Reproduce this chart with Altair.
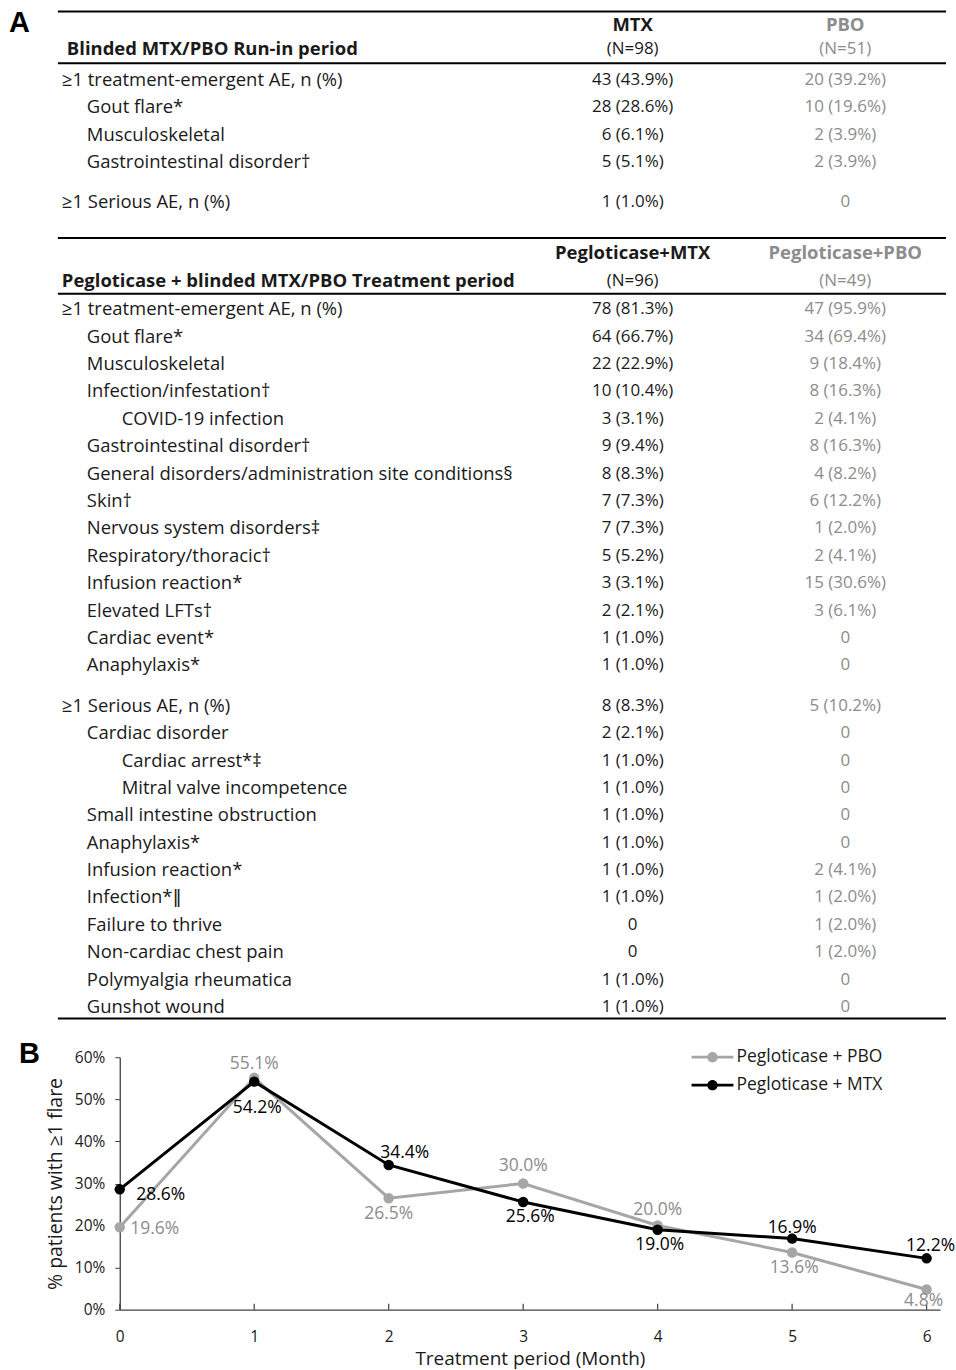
import altair as alt
import pandas as pd

FONT = "Open Sans, DejaVu Sans"
INK = "#1a1a1a"
GRAY_TXT = "#8c8c8c"
GRAY_LINE = "#a6a6a6"
AXIS_INK = "#404040"

# ---------------- Panel A: adverse event tables ----------------
runin_title = "Blinded MTX/PBO Run-in period"
runin_groups = ["MTX", "PBO"]
runin_n = ["(N=98)", "(N=51)"]
runin_labels = [
    "≥1 treatment-emergent AE, n (%)",
    "Gout flare*",
    "Musculoskeletal",
    "Gastrointestinal disorder†",
    "≥1 Serious AE, n (%)",
]
runin_levels = [0, 1, 1, 1, 0]
runin_blocks = [0, 0, 0, 0, 1]
runin_mtx = ["43 (43.9%)", "28 (28.6%)", "6 (6.1%)", "5 (5.1%)", "1 (1.0%)"]
runin_pbo = ["20 (39.2%)", "10 (19.6%)", "2 (3.9%)", "2 (3.9%)", "0"]

treat_title = "Pegloticase + blinded MTX/PBO Treatment period"
treat_groups = ["Pegloticase+MTX", "Pegloticase+PBO"]
treat_n = ["(N=96)", "(N=49)"]
treat_labels = [
    "≥1 treatment-emergent AE, n (%)",
    "Gout flare*",
    "Musculoskeletal",
    "Infection/infestation†",
    "COVID-19 infection",
    "Gastrointestinal disorder†",
    "General disorders/administration site conditions§",
    "Skin†",
    "Nervous system disorders‡",
    "Respiratory/thoracic†",
    "Infusion reaction*",
    "Elevated LFTs†",
    "Cardiac event*",
    "Anaphylaxis*",
    "≥1 Serious AE, n (%)",
    "Cardiac disorder",
    "Cardiac arrest*‡",
    "Mitral valve incompetence",
    "Small intestine obstruction",
    "Anaphylaxis*",
    "Infusion reaction*",
    "Infection*‖",
    "Failure to thrive",
    "Non-cardiac chest pain",
    "Polymyalgia rheumatica",
    "Gunshot wound",
]
treat_levels = [0, 1, 1, 1, 2, 1, 1, 1, 1, 1, 1, 1, 1, 1,
                0, 1, 2, 2, 1, 1, 1, 1, 1, 1, 1, 1]
treat_blocks = [0] * 14 + [1] * 12
treat_mtx = [
    "78 (81.3%)", "64 (66.7%)", "22 (22.9%)", "10 (10.4%)", "3 (3.1%)",
    "9 (9.4%)", "8 (8.3%)", "7 (7.3%)", "7 (7.3%)", "5 (5.2%)", "3 (3.1%)",
    "2 (2.1%)", "1 (1.0%)", "1 (1.0%)",
    "8 (8.3%)", "2 (2.1%)", "1 (1.0%)", "1 (1.0%)", "1 (1.0%)", "1 (1.0%)",
    "1 (1.0%)", "1 (1.0%)", "0", "0", "1 (1.0%)", "1 (1.0%)",
]
treat_pbo = [
    "47 (95.9%)", "34 (69.4%)", "9 (18.4%)", "8 (16.3%)", "2 (4.1%)",
    "8 (16.3%)", "4 (8.2%)", "6 (12.2%)", "1 (2.0%)", "2 (4.1%)",
    "15 (30.6%)", "3 (6.1%)", "0", "0",
    "5 (10.2%)", "0", "0", "0", "0", "0", "2 (4.1%)", "1 (2.0%)",
    "1 (2.0%)", "1 (2.0%)", "0", "0",
]

# ---------------- Panel B: flares by month ----------------
series_names = ["Pegloticase + PBO", "Pegloticase + MTX"]
months = [0, 1, 2, 3, 4, 5, 6]
flare_pbo = [19.6, 55.1, 26.5, 30.0, 20.0, 13.6, 4.8]
flare_mtx = [28.6, 54.2, 34.4, 25.6, 19.0, 16.9, 12.2]

# label placement around each point (pixels: right, down)
pbo_label_dx = [35, 0, 0, 0, 0, 2, -3]
pbo_label_dy = [2, -14, 16, -17, -16, 16, 12]
mtx_label_dx = [41, 3, 16, 7, 2, 0, 4]
mtx_label_dy = [6, 26, -12, 15, 15, -11, -12]

# ---------------- table layout ----------------
PAGE_W = 956
A_H = 1058
ROW = 27.45
BLOCK_GAP = 13
COL_A = 634
COL_B = 847
INDENT = {0: 62, 1: 87, 2: 122}
RULE_X0, RULE_X1 = 58, 948
FS_LABEL = 18.5
FS_BOLD = 18.5
FS_NUM = 17
BODY_DY = 1.5

sections = [
    dict(title=runin_title, title_x=67, groups=runin_groups, ns=runin_n,
         labels=runin_labels, levels=runin_levels, blocks=runin_blocks,
         col_a=runin_mtx, col_b=runin_pbo,
         top=10, head1=24, head2=48, head_rule=62, first=77),
    dict(title=treat_title, title_x=62, groups=treat_groups, ns=treat_n,
         labels=treat_labels, levels=treat_levels, blocks=treat_blocks,
         col_a=treat_mtx, col_b=treat_pbo,
         top=237, head1=252, head2=280, head_rule=293, first=307),
]

rule_rows, bold_c, norm_c, bold_l, body_l, body_c = [], [], [], [], [], []
last_y = 0
for s in sections:
    rule_rows.append(dict(x=RULE_X0, x2=RULE_X1, y=s["top"]))
    rule_rows.append(dict(x=RULE_X0, x2=RULE_X1, y=s["head_rule"]))
    bold_c.append(dict(x=COL_A, y=s["head1"], t=s["groups"][0], c=INK))
    bold_c.append(dict(x=COL_B, y=s["head1"], t=s["groups"][1], c=GRAY_TXT))
    norm_c.append(dict(x=COL_A, y=s["head2"], t=s["ns"][0], c=INK))
    norm_c.append(dict(x=COL_B, y=s["head2"], t=s["ns"][1], c=GRAY_TXT))
    bold_l.append(dict(x=s["title_x"], y=s["head2"], t=s["title"], c=INK))
    for i, (lab, lev, blk, a, b) in enumerate(
        zip(s["labels"], s["levels"], s["blocks"], s["col_a"], s["col_b"])
    ):
        y = s["first"] + i * ROW + blk * BLOCK_GAP
        body_l.append(dict(x=INDENT[lev], y=y, t=lab, c=INK))
        body_c.append(dict(x=COL_A, y=y, t=a, c=INK))
        body_c.append(dict(x=COL_B, y=y, t=b, c=GRAY_TXT))
        last_y = y
rule_rows.append(dict(x=RULE_X0, x2=RULE_X1, y=last_y + 13))

panel_letters = pd.DataFrame(
    [dict(x=9, y=22, t="A", c="black"), dict(x=19, y=1055, t="B", c="black")]
)
anchor = pd.DataFrame([dict(x=0, x2=PAGE_W, y=0)])

xs = alt.Scale(domain=[120, PAGE_W], nice=False, zero=False)
ys = alt.Scale(domain=[0, A_H], nice=False, zero=False, reverse=True)
AX = alt.X("x:Q", scale=xs, axis=None)
AY = alt.Y("y:Q", scale=ys, axis=None)
COLOR = alt.Color("c:N", scale=None)


def text_layer(rows, align, weight, size, dy=0):
    return alt.Chart(pd.DataFrame(rows)).mark_text(
        align=align, baseline="middle", font=FONT, fontSize=size,
        fontWeight=weight, dy=dy,
    ).encode(x=AX, y=AY, text="t:N", color=COLOR)


rules = alt.Chart(pd.DataFrame(rule_rows)).mark_rule(
    color="black", strokeWidth=2
).encode(x=AX, x2="x2:Q", y=AY)
frame = alt.Chart(anchor).mark_rule(opacity=0, strokeWidth=0.1).encode(
    x=AX, x2="x2:Q", y=AY
)
letters = alt.Chart(panel_letters).mark_text(
    align="left", baseline="middle", font="Liberation Sans", fontSize=29, fontWeight="bold"
).encode(x=AX, y=AY, text="t:N", color=COLOR)

panel_a = alt.layer(
    frame,
    rules,
    text_layer(bold_c, "center", "bold", FS_BOLD),
    text_layer(norm_c, "center", "normal", FS_NUM),
    text_layer(bold_l, "left", "bold", FS_BOLD),
    text_layer(body_l, "left", "normal", FS_LABEL, BODY_DY),
    text_layer(body_c, "center", "normal", FS_NUM, BODY_DY),
    letters,
).properties(width=PAGE_W - 120, height=A_H)

# ---------------- line chart ----------------
B_W, B_H = 822, 253
X_MAX, Y_MAX = 6.1, 60
n = len(months)
vals = flare_pbo + flare_mtx
dxs = pbo_label_dx + mtx_label_dx
dys = pbo_label_dy + mtx_label_dy
flare = pd.DataFrame({
    "month": months * 2,
    "pct": vals,
    "series": [series_names[0]] * n + [series_names[1]] * n,
    "label": [f"{v:.1f}%" for v in vals],
    # label anchor: the point shifted by its pixel offset, in axis units
    "lx": [m + dx * X_MAX / B_W for m, dx in zip(months * 2, dxs)],
    "ly": [v - dy * Y_MAX / B_H for v, dy in zip(vals, dys)],
})

x_scale = alt.Scale(domain=[0, X_MAX], nice=False, zero=False)
y_scale = alt.Scale(domain=[0, Y_MAX], nice=False)
x_axis = alt.Axis(
    values=months, format="d", title="Treatment period (Month)", ticks=False,
    labelFlush=False, labelPadding=20, titlePadding=4, labelFontSize=15.5,
    titleFontSize=19, labelColor=INK, titleColor=INK, titleFontWeight="normal",
    domainColor=AXIS_INK, domainWidth=1.3,
)
y_axis = alt.Axis(
    values=[0, 10, 20, 30, 40, 50, 60], labelExpr="datum.value + '%'",
    title="% patients with ≥1 flare", tickSize=5, tickColor=AXIS_INK,
    labelFlush=False, labelPadding=10, titlePadding=9, labelFontSize=15.5,
    titleFontSize=19.5, labelColor=INK, titleColor=INK, titleFontWeight="normal",
    domainColor=AXIS_INK, domainWidth=1.3,
)
BX = alt.X("month:Q", scale=x_scale, axis=x_axis)
BY = alt.Y("pct:Q", scale=y_scale, axis=y_axis)
LX = alt.X("lx:Q", scale=x_scale, axis=x_axis)
LY = alt.Y("ly:Q", scale=y_scale, axis=y_axis)

# line-with-dot legend glyph (both parts wound the same way so the dot fills)
LEGEND_SYMBOL = (
    "M-3.2,-0.14H1V0.14H-3.2Z "
    "M-1.62,0A0.52,0.52 0 1,1 -0.58,0A0.52,0.52 0 1,1 -1.62,0Z"
)
series_color = alt.Color(
    "series:N",
    scale=alt.Scale(domain=series_names, range=[GRAY_LINE, "black"]),
    legend=alt.Legend(
        title=None, orient="none", legendX=595, legendY=A_H - 10,
        symbolType=LEGEND_SYMBOL, symbolSize=400, symbolStrokeWidth=0,
        symbolOpacity=1, labelFont=FONT, labelFontSize=17.5, labelColor=INK,
        labelOffset=3, rowPadding=9, padding=0,
    ),
)

base = alt.Chart(flare)


def series_layers(name, color, text_color):
    sub = base.transform_filter(alt.datum.series == name)
    line = sub.mark_line(color=color, strokeWidth=3).encode(x=BX, y=BY)
    pts = sub.mark_point(filled=True, size=110, opacity=1).encode(
        x=BX, y=BY, color=series_color
    )
    labels = sub.mark_text(
        font=FONT, fontSize=17.5, color=text_color, align="center", baseline="middle",
    ).encode(x=LX, y=LY, text="label:N")
    return [line, pts, labels]


inner_ticks = alt.Chart(pd.DataFrame({"month": months})).mark_rule(
    color=AXIS_INK, strokeWidth=1.2
).encode(x=BX, y=alt.value(B_H), y2=alt.value(B_H - 6))

panel_b = alt.layer(
    inner_ticks,
    *series_layers(series_names[0], GRAY_LINE, GRAY_TXT),
    *series_layers(series_names[1], "black", "black"),
).properties(width=B_W, height=B_H)

chart = (
    alt.vconcat(panel_a, panel_b, spacing=0, bounds="flush")
    .properties(padding=0, background="white")
    .configure_view(stroke=None)
    .configure_axis(grid=False, labelFont=FONT, titleFont=FONT)
)

chart.save("out.html", embed_options={"renderer": "svg", "actions": False})
